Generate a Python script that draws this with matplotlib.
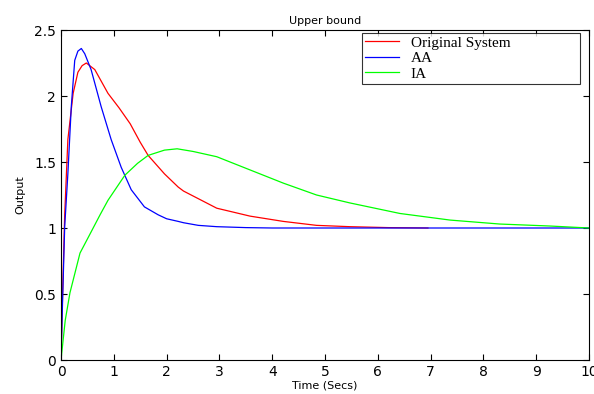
import matplotlib.pyplot as plt
import numpy as np

# step responses
t_orig = [0, 0.03, 0.07, 0.13, 0.23, 0.32, 0.4, 0.48, 0.64, 0.89, 1.1, 1.31, 1.5,
          1.65, 1.96, 2.22, 2.32, 2.95, 3.58, 4.21, 4.84, 5.47, 6.2, 6.95]
y_orig = [0, 0.5, 1.1, 1.67, 2.02, 2.18, 2.23, 2.25, 2.20, 2.02, 1.91, 1.79, 1.65,
          1.55, 1.41, 1.31, 1.28, 1.15, 1.09, 1.05, 1.02, 1.01, 1.003, 1.0]

t_aa = [0, 0.03, 0.07, 0.13, 0.195, 0.26, 0.32, 0.385, 0.45, 0.57, 0.76, 0.95, 1.14,
        1.33, 1.58, 1.84, 2.0, 2.22, 2.32, 2.6, 2.95, 3.5, 4, 5, 6, 7, 8, 9, 10]
y_aa = [0, 0.45, 1.01, 1.41, 1.92, 2.27, 2.34, 2.36, 2.32, 2.20, 1.92, 1.67, 1.46,
        1.29, 1.16, 1.10, 1.07, 1.05, 1.04, 1.02, 1.01, 1.003, 1.0, 1.0, 1.0, 1.0,
        1.0, 1.0, 1.0]

t_ia = [0, 0.08, 0.17, 0.36, 0.57, 0.74, 0.89, 1.21, 1.45, 1.65, 1.96, 2.2, 2.5, 2.95,
        3.58, 4.21, 4.84, 5.47, 6.42, 7.37, 8.31, 9.26, 10]
y_ia = [0, 0.3, 0.51, 0.81, 0.97, 1.1, 1.21, 1.40, 1.49, 1.55, 1.59, 1.60, 1.58, 1.54,
        1.44, 1.34, 1.25, 1.19, 1.11, 1.06, 1.03, 1.015, 1.0]

labels = ['Original System', 'AA', 'IA']

fig = plt.figure(figsize=(5.94, 3.94), dpi=100)
ax = fig.add_axes([61/594, 34/394, 528/594, 330/394])

ax.plot(t_orig, y_orig, color='#ff0000', lw=0.9, label=labels[0])
ax.plot(t_aa, y_aa, color='#0000ff', lw=0.9, label=labels[1])
ax.plot(t_ia, y_ia, color='#00ff00', lw=0.9, label=labels[2])

ax.set_xlim(0, 10)
ax.set_ylim(0, 2.5)
ax.set_xticks(np.arange(0, 11, 1))
ax.set_yticks(np.arange(0, 2.51, 0.5))
ax.set_yticklabels(['0', '0.5', '1', '1.5', '2', '2.5'])
ax.tick_params(direction='in', top=True, right=True, labelsize=10, length=4, width=0.8)
for s in ax.spines.values():
    s.set_linewidth(0.8)

ax.set_title('Upper bound', fontsize=8, pad=4)
ax.set_xlabel('Time (Secs)', fontsize=8, labelpad=1)
ax.set_ylabel('Output', fontsize=8, labelpad=6)

leg = ax.legend(loc='upper left', bbox_to_anchor=(0.57, 0.991, 0.413, 0.0), mode='expand',
                frameon=True, fancybox=False, borderaxespad=0,
                prop={'family': 'Liberation Serif', 'size': 11},
                handlelength=2.2, labelspacing=0.12, borderpad=0.2, handletextpad=0.8)
leg.get_frame().set_edgecolor('black')
leg.get_frame().set_linewidth(0.8)

fig.savefig('out.png', dpi=100)
